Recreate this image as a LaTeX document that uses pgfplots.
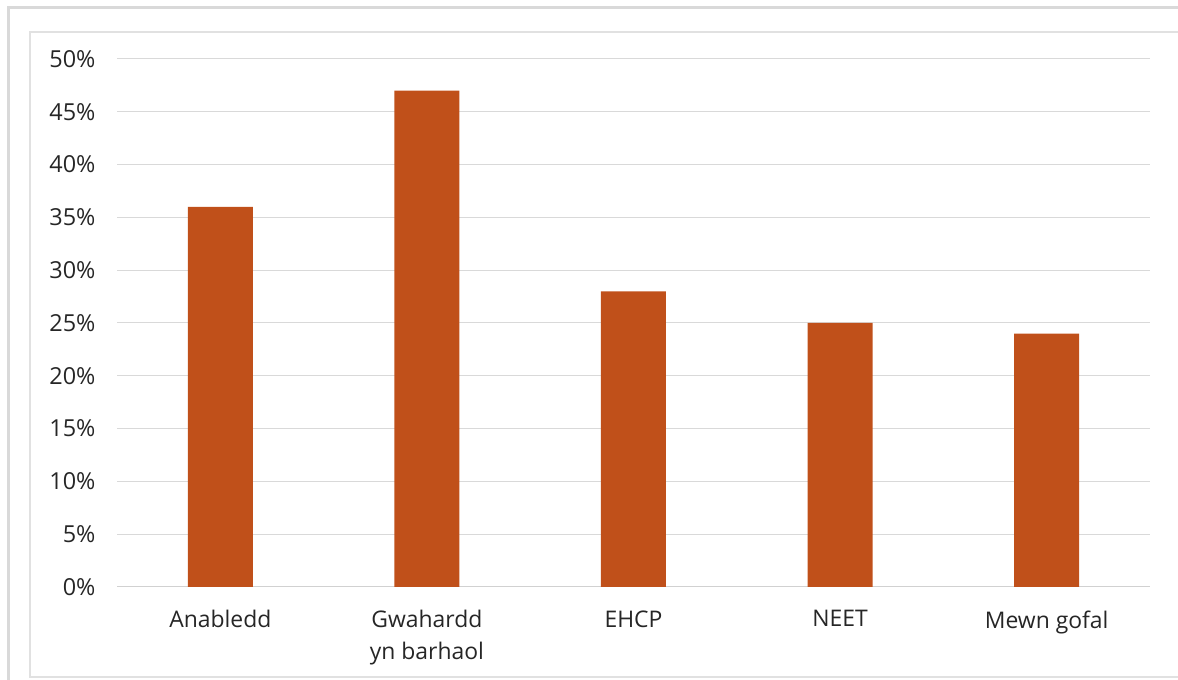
\documentclass[border=0pt]{standalone}
\usepackage{pgfplots}
\pgfplotsset{compat=1.18}
\usepackage{fontspec}
\setmainfont{Open Sans}
\definecolor{barc}{HTML}{C0501A}
\definecolor{gridc}{HTML}{D9D9D9}
\begin{document}
\begin{tikzpicture}[x=1bp,y=1bp]
\useasboundingbox (0,0) rectangle (1178,680);
\draw[gridc, line width=3bp] (8,-20) rectangle (1200,672);
\draw[gridc!80, line width=1.5bp] (30,3) rectangle (1200,648);
\begin{axis}[
  at={(117bp,93bp)}, anchor=south west,
  scale only axis, width=1033bp, height=528bp,
  xmin=-0.5, xmax=4.5, ymin=0, ymax=50,
  ybar, bar width=65bp,
  axis line style={draw=none},
  xtick=data,
  xticklabels={Anabledd, {Gwahardd\\yn barhaol}, EHCP, NEET, Mewn gofal},
  xticklabel style={align=center, font=\fontsize{23}{32}\selectfont, text=black!85, yshift=-20bp},
  ytick={0,5,...,50},
  yticklabel={\pgfmathprintnumber{\tick}\%},
  yticklabel style={font=\fontsize{23.5}{24}\selectfont, text=black!85, xshift=-18bp},
  /pgf/number format/assume math mode=true,
  major tick length=0pt,
  ymajorgrids, grid style={gridc, line width=1bp},
  extra y ticks={0}, extra y tick labels={}, extra y tick style={grid style={gridc!120, line width=1bp}},
]
\addplot[fill=barc, draw=none] coordinates {(0,36) (1,47) (2,28) (3,25) (4,24)};
\end{axis}
\end{tikzpicture}
\end{document}
